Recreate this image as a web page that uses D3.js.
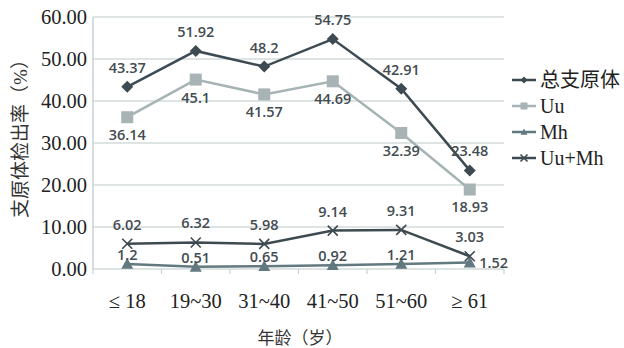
<!DOCTYPE html>
<html><head><meta charset="utf-8">
<script src="https://cdn.jsdelivr.net/npm/d3@7"></script>
<style>body{margin:0;background:#fff}svg{display:block}</style>
</head><body>
<svg id="c" width="624" height="348"></svg>
<script>
const categories = ["≤ 18","19~30","31~40","41~50","51~60","≥ 61"];
const total = [43.37,51.92,48.2,54.75,42.91,23.48];
const uu = [36.14,45.1,41.57,44.69,32.39,18.93];
const mh = [1.2,0.51,0.65,0.92,1.21,1.52];
const uumh = [6.02,6.32,5.98,9.14,9.31,3.03];
const yTicks = [0,10,20,30,40,50,60];
const seriesNames = ["总支原体","Uu","Mh","Uu+Mh"];

const svg = d3.select("#c");
const m = {l:93, r:504, t:17, b:269};
const x = d3.scaleBand().domain(categories).range([m.l, m.r]);
const y = d3.scaleLinear().domain([0,60]).range([m.b, m.t]);
const serif = "'Liberation Serif','Noto Sans CJK SC',serif";
const sans = "'Open Sans','DejaVu Sans',sans-serif";

// grid
svg.append("g").selectAll("line").data(yTicks).join("line")
  .attr("x1", m.l).attr("x2", m.r).attr("y1", d=>y(d)).attr("y2", d=>y(d))
  .attr("stroke", "#d3dbdb").attr("stroke-width", 1.5);
// left axis line
svg.append("line").attr("x1", m.l).attr("x2", m.l).attr("y1", m.t).attr("y2", m.b)
  .attr("stroke", "#c9d2d2").attr("stroke-width", 1.5);
// bottom ticks
svg.append("g").selectAll("line").data(d3.range(categories.length+1)).join("line")
  .attr("x1", i=>m.l + i*x.bandwidth()).attr("x2", i=>m.l + i*x.bandwidth())
  .attr("y1", m.b).attr("y2", m.b+5).attr("stroke", "#c9d2d2").attr("stroke-width", 1.2);

// y labels
svg.append("g").selectAll("text").data(yTicks).join("text")
  .attr("x", 87).attr("y", d=>y(d)+7).attr("text-anchor","end")
  .attr("font-family", serif).attr("font-size", 20.5).attr("fill","#222")
  .text(d=>d.toFixed(2));
// x labels
svg.append("g").selectAll("text").data(categories).join("text")
  .attr("x", d=>x(d)+x.bandwidth()/2).attr("y", 308).attr("text-anchor","middle")
  .attr("font-family", serif).attr("font-size", 20.5).attr("fill","#222")
  .text(d=>d);
// axis titles
svg.append("text").attr("x", 300).attr("y", 344).attr("text-anchor","middle")
  .attr("font-family", serif).attr("font-size", 17).attr("fill","#333").text("年龄（岁）");
svg.append("text").attr("transform","translate(27,134) rotate(-90)").attr("text-anchor","middle")
  .attr("font-family", serif).attr("font-size", 19).attr("fill","#333").text("支原体检出率（%）");

const cx = i => x(categories[i]) + x.bandwidth()/2;
const series = [
  {name:seriesNames[0], vals:total, color:"#3d4a52", marker:"diamond"},
  {name:seriesNames[1], vals:uu, color:"#a7b3b5", marker:"square"},
  {name:seriesNames[2], vals:mh, color:"#62797f", marker:"triangle"},
  {name:seriesNames[3], vals:uumh, color:"#3d4a50", marker:"x"}
];
const line = d3.line().x((d,i)=>cx(i)).y(d=>y(d));
function drawMarker(g, type, px, py, color, s){
  if(type==="diamond") g.append("path").attr("d",`M${px},${py-s}L${px+s},${py}L${px},${py+s}L${px-s},${py}Z`).attr("fill",color);
  else if(type==="square") g.append("rect").attr("x",px-s).attr("y",py-s).attr("width",2*s).attr("height",2*s).attr("fill",color);
  else if(type==="triangle") g.append("path").attr("d",`M${px},${py-s}L${px+s},${py+s*0.8}L${px-s},${py+s*0.8}Z`).attr("fill",color);
  else if(type==="x") g.append("path").attr("d",`M${px-s},${py-s}L${px+s},${py+s}M${px-s},${py+s}L${px+s},${py-s}`).attr("stroke",color).attr("stroke-width",1.6).attr("fill","none");
}
const sizes = {diamond:6, square:6, triangle:6, x:5};
series.forEach(s=>{
  const g = svg.append("g");
  g.append("path").datum(s.vals).attr("d", line).attr("fill","none").attr("stroke", s.color).attr("stroke-width", 2.5);
  s.vals.forEach((v,i)=> drawMarker(g, s.marker, cx(i), y(v), s.color, sizes[s.marker]));
});
// data labels
const labOff = {
  "总支原体": i=>[0,-14],
  "Uu": i=>[0,23],
  "Mh": i=> i===5 ? [24,5] : [0,-4],
  "Uu+Mh": i=>[0,-14]
};
series.forEach(s=>{
  svg.append("g").selectAll("text").data(s.vals).join("text")
    .attr("x",(d,i)=>cx(i)+labOff[s.name](i)[0]).attr("y",(d,i)=>y(d)+labOff[s.name](i)[1])
    .attr("text-anchor","middle").attr("font-family",sans).attr("font-size",14.5).attr("font-weight",600)
    .attr("fill","#434c51").text(d=>d);
});
// legend
const lg = svg.append("g");
series.forEach((s,i)=>{
  const ly = 80 + i*26;
  lg.append("line").attr("x1",512).attr("x2",536).attr("y1",ly).attr("y2",ly).attr("stroke",s.color).attr("stroke-width",2.5);
  drawMarker(lg, s.marker, 524, ly, s.color, 3.5);
  lg.append("text").attr("x",540).attr("y",ly+7).attr("font-family",serif).attr("font-size",20).attr("fill","#222").text(s.name);
});
</script>
</body></html>
